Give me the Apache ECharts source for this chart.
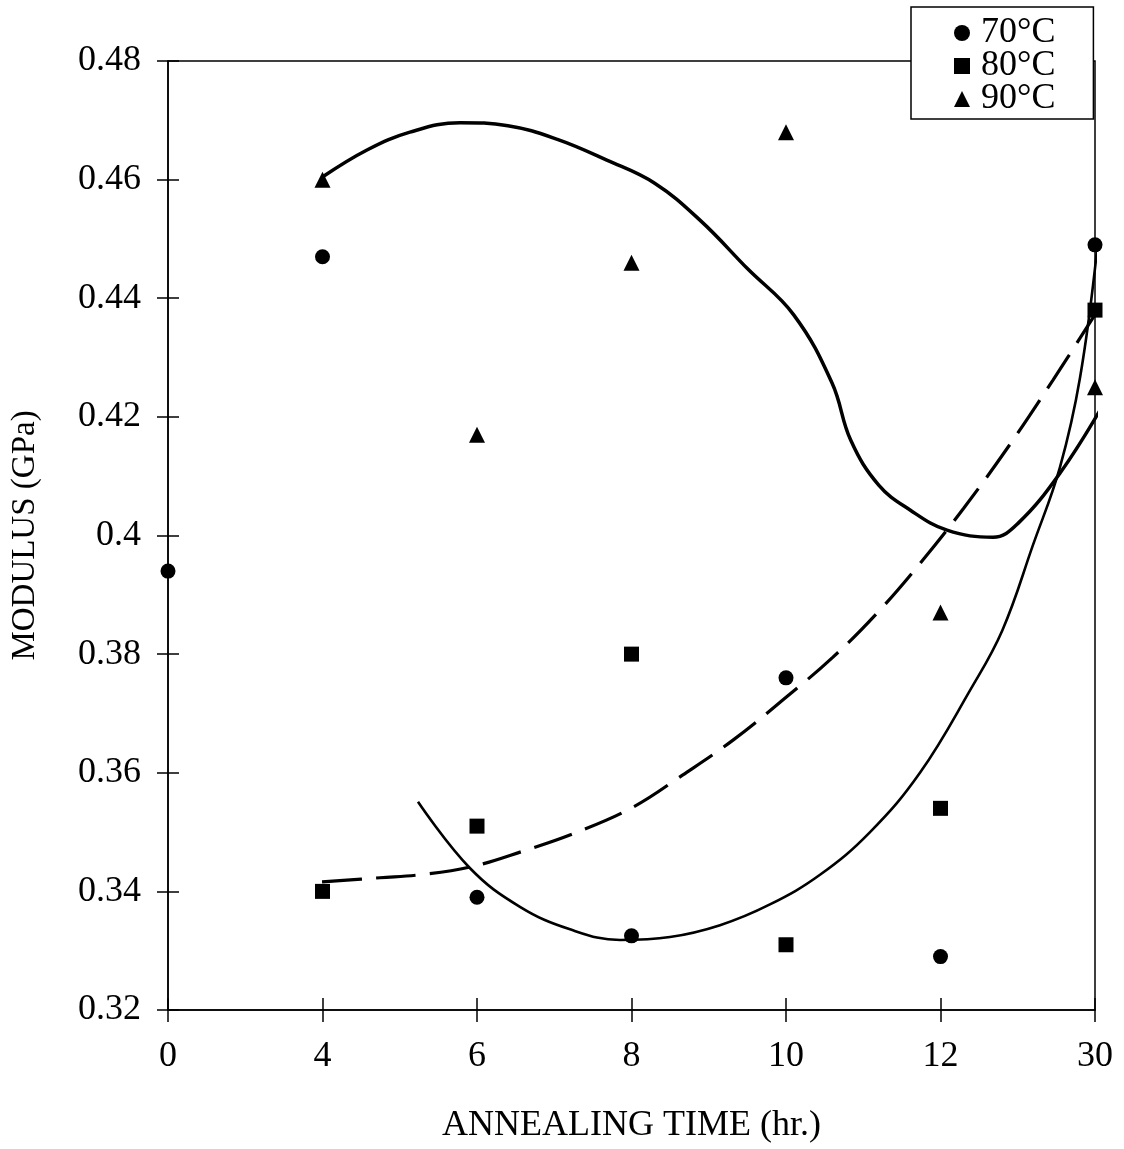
<!DOCTYPE html>
<html>
<head>
<meta charset="utf-8">
<script src="https://cdn.jsdelivr.net/npm/echarts@6/dist/echarts.min.js"></script>
<style>
html,body{margin:0;padding:0;background:#fff;}
#chart{width:1124px;height:1149px;}
</style>
</head>
<body>
<div id="chart"></div>
<script>
// ---- data ----
const timeLabels = ['0', '4', '6', '8', '10', '12', '30'];   // annealing time (hr.), equally spaced
const seriesNames = ['70°C', '80°C', '90°C'];
const modulus70 = [0.394, 0.447, 0.339, 0.3325, 0.376, 0.329, 0.449];
const modulus80 = [null, 0.340, 0.351, 0.380, 0.331, 0.354, 0.438];
const modulus90 = [null, 0.460, 0.417, 0.446, 0.468, 0.387, 0.425];
// hand-drawn trend curves: [position index along x axis, modulus]
const trend70 = [[1.618,0.3551],[1.955,0.3439],[2.278,0.3374],[2.602,0.3336],[2.926,0.3318],[3.249,0.3323],
  [3.573,0.3343],[3.896,0.3378],[4.220,0.3428],[4.544,0.3500],[4.867,0.3600],[5.191,0.3739],[5.400,0.3840],
  [5.600,0.3985],[5.773,0.4115],[5.903,0.4266],[6.013,0.4481]];
const trend80 = [[0.997,0.3416],[1.372,0.3423],[1.631,0.3428],[1.955,0.3441],[2.300,0.3468],[2.650,0.3500],
  [3.010,0.3542],[3.330,0.3596],[3.657,0.3655],[3.981,0.3723],[4.304,0.3795],[4.589,0.3869],[4.887,0.3959],
  [5.150,0.4046],[5.440,0.4150],[5.728,0.4262],[6.006,0.4375]];
const trend90 = [[0.997,0.4604],[1.288,0.4650],[1.566,0.4680],[1.890,0.4696],[2.200,0.4691],[2.520,0.4668],
  [2.840,0.4633],[3.150,0.4594],[3.450,0.4530],[3.750,0.4450],[4.050,0.4372],[4.298,0.4257],
  [4.420,0.4160],[4.600,0.4085],[4.803,0.4043],[5.042,0.4009],[5.340,0.3997],[5.500,0.4020],[5.773,0.4105],
  [6.052,0.4220]];
const xTitle = 'ANNEALING TIME (hr.)';
const yTitle = 'MODULUS (GPa)';

// ---- chart ----
const FONT = '"Liberation Serif", "Times New Roman", serif';
const toPts = arr => arr.map((v, i) => v == null ? null : [i, v]).filter(p => p);
const chart = echarts.init(document.getElementById('chart'), null, {renderer: 'canvas'});
const axisCommon = {min: 0, max: 6, interval: 1};
chart.setOption({
  backgroundColor: '#fff',
  animation: false,
  grid: {left: 168, right: 29, top: 61, bottom: 139, show: true, borderColor: '#000', borderWidth: 1.5, backgroundColor: 'transparent'},
  legend: {
    data: seriesNames,
    orient: 'vertical',
    left: 911, top: 7,
    backgroundColor: '#fff',
    borderColor: '#000', borderWidth: 1.5, borderRadius: 0,
    padding: [8, 38, 2, 43],
    itemWidth: 16, itemHeight: 16, itemGap: -3,
    textStyle: {fontFamily: FONT, fontSize: 36, color: '#000', padding: [0, 0, 0, 6]},
    selectedMode: false,
    z: 10
  },
  xAxis: [
    Object.assign({type: 'value', position: 'bottom',
      axisLine: {show: true, onZero: false, lineStyle: {color: '#000', width: 1.5}},
      axisTick: {show: true, inside: false, length: 12, lineStyle: {color: '#000', width: 1.5}},
      axisLabel: {margin: 29, fontFamily: FONT, fontSize: 36, color: '#000', formatter: v => timeLabels[Math.round(v)]},
      splitLine: {show: false},
      name: xTitle, nameLocation: 'middle', nameGap: 98,
      nameTextStyle: {fontFamily: FONT, fontSize: 36, color: '#000'}
    }, axisCommon),
    Object.assign({type: 'value', position: 'bottom',
      axisLine: {show: false, onZero: false},
      axisTick: {show: true, inside: true, length: 12, lineStyle: {color: '#000', width: 1.5}},
      axisLabel: {show: false}, splitLine: {show: false}
    }, axisCommon)
  ],
  yAxis: [
    {type: 'value', min: 0.32, max: 0.48, interval: 0.02, position: 'left',
      axisLine: {show: true, onZero: false, lineStyle: {color: '#000', width: 1.5}},
      axisTick: {show: true, inside: false, length: 11, lineStyle: {color: '#000', width: 1.5}},
      axisLabel: {margin: 27, fontFamily: FONT, fontSize: 36, color: '#000', formatter: v => String(parseFloat(v.toFixed(2)))},
      splitLine: {show: false},
      name: yTitle, nameLocation: 'middle', nameGap: 126,
      nameTextStyle: {fontFamily: FONT, fontSize: 33, color: '#000'}
    },
    {type: 'value', min: 0.32, max: 0.48, interval: 0.02, position: 'left',
      axisLine: {show: false, onZero: false},
      axisTick: {show: true, inside: true, length: 11, lineStyle: {color: '#000', width: 1.5}},
      axisLabel: {show: false}, splitLine: {show: false}
    }
  ],
  series: [
    {name: 'trend 90', type: 'line', data: trend90, smooth: 0.4, showSymbol: false, silent: true,
      lineStyle: {color: '#000', width: 3.5}, z: 2},
    {name: 'trend 80', type: 'line', data: trend80, smooth: 0.4, showSymbol: false, silent: true,
      lineStyle: {color: '#000', width: 3.2, type: [40, 14]}, z: 2},
    {name: 'trend 70', type: 'line', data: trend70, smooth: 0.4, showSymbol: false, silent: true,
      lineStyle: {color: '#000', width: 2.6}, z: 2},
    {name: seriesNames[0], type: 'scatter', symbol: 'circle', symbolSize: 15, data: toPts(modulus70),
      itemStyle: {color: '#000', opacity: 1}, z: 3},
    {name: seriesNames[1], type: 'scatter', symbol: 'rect', symbolSize: 15, data: toPts(modulus80),
      itemStyle: {color: '#000', opacity: 1}, z: 3},
    {name: seriesNames[2], type: 'scatter', symbol: 'triangle', symbolSize: 16, data: toPts(modulus90),
      itemStyle: {color: '#000', opacity: 1}, z: 3}
  ]
});
</script>
</body>
</html>
